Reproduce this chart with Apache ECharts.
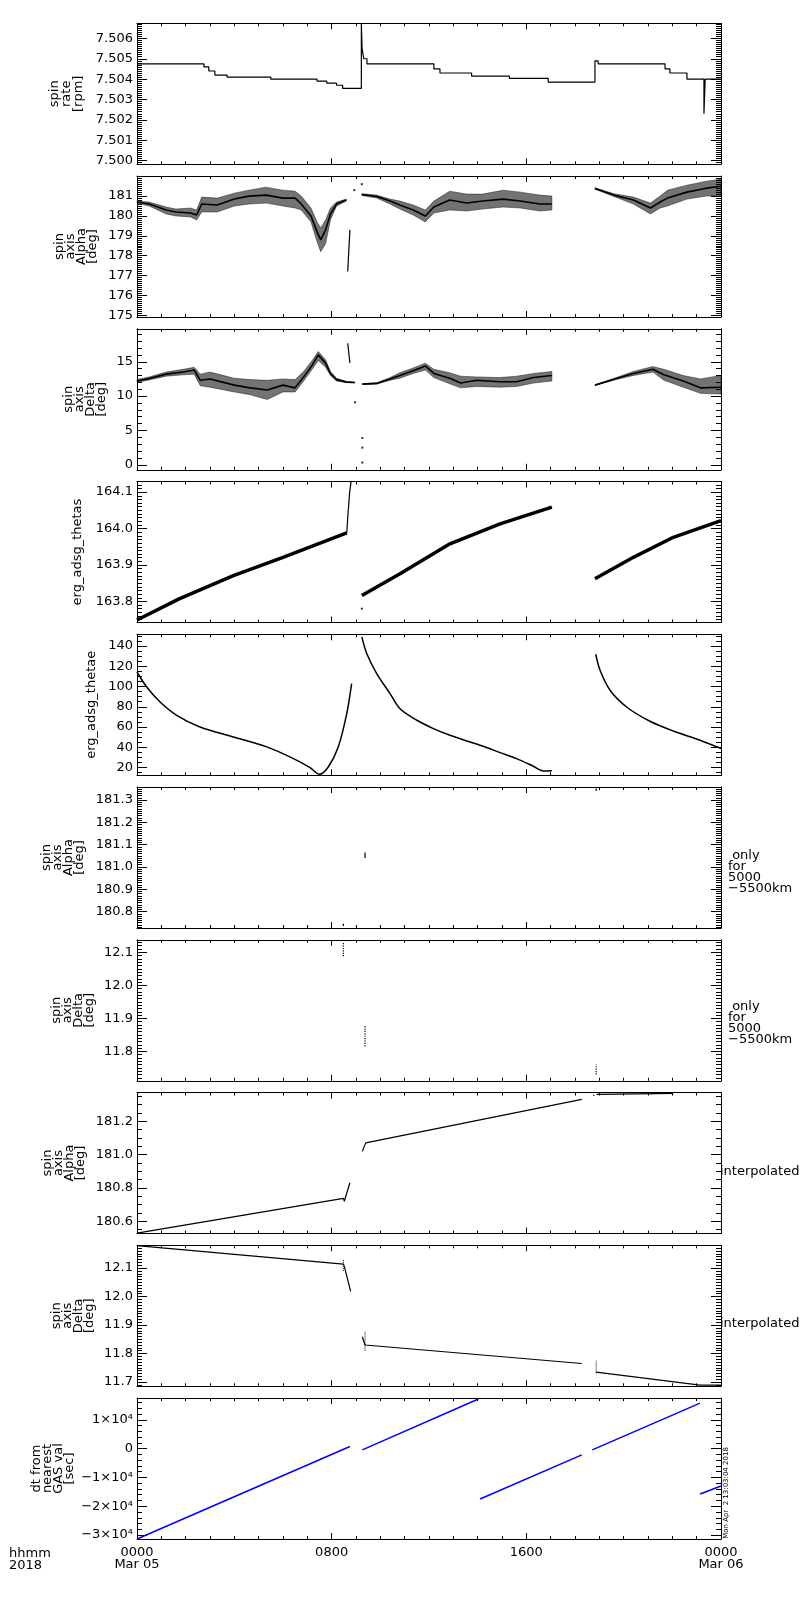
<!DOCTYPE html>
<html>
<head>
<meta charset="utf-8">
<script src="https://cdn.jsdelivr.net/npm/echarts@6.0.0/dist/echarts.min.js"></script>
<style>
  html, body { margin: 0; padding: 0; background: #fff; }
  #chart { width: 800px; height: 1600px; }
</style>
</head>
<body>
<div id="chart"></div>
<script>
// time axis in hours from 0000 Mar 05
var timeTicks = [0, 8, 16, 24];
var timeLabels = ['0000\nMar 05', '0800', '1600', '0000\nMar 06'];

// 1. spin rate [rpm]
var rateHours = [0, 2.66, 2.75, 2.95, 3.2, 3.7, 5.5, 7.4, 7.8, 8.2, 8.45, 9.22, 9.22, 9.25, 9.32, 9.45, 12.05, 12.2, 12.45, 13.75, 15.3, 16.9, 18.82, 18.82, 18.95, 21.57, 21.7, 21.9, 22.6, 23.3, 23.3, 23.35, 24];
var rateVals = [7.50475, 7.50475, 7.5046, 7.5044, 7.5042, 7.5041, 7.5040, 7.5039, 7.5038, 7.5037, 7.50355, 7.50355, 7.5067, 7.5055, 7.5050, 7.50475, 7.50475, 7.5045, 7.5043, 7.50415, 7.50404, 7.50385, 7.50385, 7.5049, 7.50475, 7.50475, 7.5045, 7.5043, 7.5040, 7.5040, 7.5023, 7.5040, 7.5040];
var rateTicks = [7.500, 7.501, 7.502, 7.503, 7.504, 7.505, 7.506];

// 2. spin axis alpha [deg] (scattered band: low / mid / high)
var alphaHours = [0, 0.5, 1.2, 1.6, 2.2, 2.45, 2.66, 3.3, 4.0, 4.6, 5.3, 6.0, 6.5, 6.75, 7.15, 7.4, 7.55, 7.75, 7.95, 8.2, 8.6, null,
  9.24, 9.85, 10.4, 10.8, 11.35, 11.85, 12.2, 12.85, 13.55, 14.2, 15.05, 15.75, 16.55, 17.05, null,
  18.82, 19.6, 20.4, 21.1, 21.5, 21.8, 22.6, 23.4, 24];
var alphaMid = [180.7, 180.6, 180.3, 180.2, 180.15, 180.05, 180.6, 180.55, 180.85, 181.0, 181.05, 180.9, 180.9, 180.6, 180.0, 179.2, 178.8, 179.3, 180.1, 180.6, 180.8, null,
  181.08, 180.98, 180.75, 180.55, 180.3, 180.0, 180.45, 180.8, 180.65, 180.75, 180.85, 180.75, 180.6, 180.6, null,
  181.38, 181.05, 180.8, 180.4, 180.7, 180.9, 181.2, 181.4, 181.5];
var alphaLow = [180.65, 180.5, 180.1, 180.0, 179.95, 179.8, 180.2, 180.2, 180.5, 180.6, 180.65, 180.5, 180.4, 180.3, 179.7, 178.7, 178.2, 178.6, 179.8, 180.5, 180.75, null,
  181.03, 180.9, 180.6, 180.35, 180.05, 179.7, 180.15, 180.3, 180.25, 180.35, 180.45, 180.4, 180.25, 180.3, null,
  181.35, 180.98, 180.6, 180.1, 180.4, 180.5, 180.85, 181.0, 181.0];
var alphaHigh = [180.75, 180.7, 180.45, 180.35, 180.4, 180.3, 180.95, 180.9, 181.15, 181.3, 181.45, 181.3, 181.25, 181.0, 180.4, 179.7, 179.4, 179.8, 180.4, 180.7, 180.85, null,
  181.12, 181.05, 180.85, 180.75, 180.55, 180.3, 180.75, 181.25, 181.1, 181.1, 181.3, 181.2, 181.05, 181.0, null,
  181.42, 181.12, 180.95, 180.65, 181.0, 181.3, 181.55, 181.75, 181.85];
var alphaJumpHours = [8.66, 8.75];
var alphaJumpVals = [177.2, 179.3];
var alphaDotHours = [8.93, 9.24];
var alphaDotVals = [181.3, 181.6];
var alphaTicks = [175, 176, 177, 178, 179, 180, 181];

// 3. spin axis delta [deg]
var deltaHours = [0, 0.5, 1.2, 1.9, 2.35, 2.6, 3.0, 4.0, 4.65, 5.35, 6.0, 6.5, 6.85, 7.2, 7.45, 7.75, 7.95, 8.2, 8.6, 8.95, null,
  9.26, 9.85, 10.4, 10.8, 11.35, 11.85, 12.2, 12.85, 13.3, 13.95, 14.9, 15.6, 16.3, 17.05, null,
  18.82, 19.7, 20.4, 21.2, 21.65, 22.45, 23.15, 24];
var deltaMid = [12.2, 12.55, 13.2, 13.5, 13.8, 12.3, 12.5, 11.6, 11.2, 10.9, 11.6, 11.2, 12.8, 14.5, 16.0, 14.8, 13.3, 12.4, 12.05, 11.98, null,
  11.75, 11.85, 12.5, 13.0, 13.7, 14.4, 13.3, 12.6, 11.9, 12.3, 12.1, 12.1, 12.7, 13.0, null,
  11.6, 12.55, 13.3, 13.9, 13.1, 12.2, 11.2, 11.3];
var deltaLow = [12.0, 12.35, 12.9, 13.1, 13.2, 11.5, 11.3, 10.6, 10.2, 9.5, 10.6, 10.6, 12.2, 13.9, 15.2, 14.2, 13.0, 12.2, 11.95, 11.9, null,
  11.7, 11.75, 12.3, 12.6, 13.3, 13.8, 12.7, 11.8, 11.2, 11.4, 11.3, 11.4, 11.9, 12.2, null,
  11.55, 12.4, 13.0, 13.5, 12.3, 11.3, 10.4, 10.3];
var deltaHigh = [12.4, 12.8, 13.5, 13.9, 14.2, 13.2, 13.5, 12.6, 12.4, 12.3, 12.5, 12.4, 13.6, 15.2, 16.5, 15.3, 13.6, 12.6, 12.15, 12.05, null,
  11.8, 11.95, 12.7, 13.4, 14.1, 14.8, 13.9, 13.4, 12.9, 12.8, 12.7, 12.9, 13.3, 13.6, null,
  11.65, 12.7, 13.6, 14.3, 13.9, 13.0, 12.5, 13.0];
var deltaJumpHours = [8.66, 8.75];
var deltaJumpVals = [17.7, 14.8];
var deltaDotHours = [8.96, 9.26, 9.26, 9.26];
var deltaDotVals = [9.1, 3.9, 2.5, 0.33];
var deltaTicks = [0, 5, 10, 15];

// 4. erg_adsg_thetas
var thetasHours = [0, 1.73, 3.96, 6.0, 8.62, null, 9.24, 10.81, 12.86, 14.92, 17.05, null, 18.82, 20.4, 22.04, 24];
var thetasVals = [163.749, 163.807, 163.871, 163.921, 163.988, null, 163.816, 163.876, 163.958, 164.013, 164.059, null, 163.862, 163.921, 163.976, 164.022];
var thetasJumpHours = [8.62, 8.66, 8.74, 8.8];
var thetasJumpVals = [163.988, 164.03, 164.1, 164.13];
var thetasDotHours = [9.24];
var thetasDotVals = [163.78];
var thetasTicks = [163.8, 163.9, 164.0, 164.1];

// 5. erg_adsg_thetae
var thetaeHours = [0, 0.4, 0.95, 1.63, 2.59, 3.96, 5.33, 6.43, 7.11, 7.49, 7.86, 8.27, 8.62, 8.82, null,
  9.24, 9.44, 9.85, 10.4, 10.81, 11.5, 12.18, 12.86, 13.55, 14.23, 14.92, 15.6, 16.29, 16.7, 17.05, null,
  18.85, 19.03, 19.44, 20.12, 21.08, 22.04, 23.14, 24];
var thetaeVals = [114.3, 99.5, 84.7, 71.6, 60.1, 50.2, 40.4, 28.9, 20.0, 13.4, 20.6, 40.4, 73.3, 102.9, null,
  148.9, 132.5, 112.8, 93.0, 78.0, 66.7, 58.5, 51.9, 46.3, 41.0, 34.8, 28.9, 21.3, 16.7, 16.9, null,
  131.8, 116.0, 96.3, 79.8, 65.7, 56.1, 47.0, 38.8];
var thetaeTicks = [20, 40, 60, 80, 100, 120, 140];

// 6. spin axis alpha, only for 5000-5500 km
var alphaKmHours = [8.48, 8.48, null, 9.37, 9.37, null, 18.87, 18.87];
var alphaKmVals = [180.735, 180.745, null, 181.04, 181.065, null, 181.34, 181.352];
var alphaKmTicks = [180.8, 180.9, 181.0, 181.1, 181.2, 181.3];

// 7. spin axis delta, only for 5000-5500 km
var deltaKmHours = [8.48, 8.48, null, 9.37, 9.37, null, 18.87, 18.87];
var deltaKmVals = [12.088, 12.128, null, 11.815, 11.88, null, 11.73, 11.76];
var deltaKmTicks = [11.8, 11.9, 12.0, 12.1];

// 8. spin axis alpha, interpolated
var alphaIntHours = [0, 8.48, 8.52, 8.75, null, 9.26, 9.4, 18.28, null, 18.76, 18.78, null, 18.89, 22.04];
var alphaIntVals = [180.529, 180.737, 180.72, 180.831, null, 181.019, 181.07, 181.331, null, 181.352, 181.358, null, 181.361, 181.367];
var alphaIntTicks = [180.6, 180.8, 181.0, 181.2];

// 9. spin axis delta, interpolated
var deltaIntHours = [0, 8.48, 8.52, 8.78, null, 9.26, 9.37, 9.4, 18.28, null, 18.87, 23.14, 24];
var deltaIntVals = [12.179, 12.114, 12.106, 12.018, null, 11.859, 11.83, 11.823, 11.765, null, 11.735, 11.689, 11.689];
var deltaIntMarkHours = [8.48, 8.48, null, 9.37, 9.37, null, 18.87, 18.87];
var deltaIntMarkVals = [12.09, 12.13, null, 11.81, 11.88, null, 11.73, 11.775];
var deltaIntTicks = [11.7, 11.8, 11.9, 12.0, 12.1];

// 10. dt from nearest GAS val [sec]
var dtHours = [0, 8.75, null, 9.26, 14.03, null, 14.1, 18.28, null, 18.71, 23.14, null, 23.14, 24];
var dtVals = [-31391, 713, null, -435, 17200, null, -17478, -2174, null, -435, 15800, null, -15739, -12957];
var dtTicks = [-30000, -20000, -10000, 0, 10000];
var dtTickLabels = ['\u22123\u00d710\u2074', '\u22122\u00d710\u2074', '\u22121\u00d710\u2074', '0', '1\u00d710\u2074'];

var FONT = 'DejaVu Sans';
var TOP0 = 23.3, STEP = 152.75, H = 141, LEFT = 137, W = 584;

function pairs(hours, vals) {
    var out = [], last = 0;
    hours.forEach(function (h, i) {
        if (h == null || vals[i] == null) { out.push([last, '-']); return; }
        last = h;
        out.push([h, vals[i]]);
    });
    return out;
}

function segments(hours) {
    var segs = [], cur = [];
    hours.forEach(function (h, i) {
        if (h == null) { if (cur.length) segs.push(cur); cur = []; } else cur.push(i);
    });
    if (cur.length) segs.push(cur);
    return segs;
}

function steps(min, max, step) {
    var out = [];
    for (var k = Math.ceil(min / step - 1e-9); k * step <= max + 1e-9; k++) out.push(+(k * step).toFixed(6));
    return out;
}

var panels = [
    {name: 'spin\nrate\n[rpm]', min: 7.49982, max: 7.50674, ticks: rateTicks, dec: 3, minor: 0.0001, gap: 52, lh: 12},
    {name: 'spin\naxis\nAlpha\n[deg]', min: 174.91, max: 182.01, ticks: alphaTicks, dec: 0, minor: 0.1, gap: 39},
    {name: 'spin\naxis\nDelta\n[deg]', min: -0.73, max: 19.8, ticks: deltaTicks, dec: 0, minor: 1, gap: 30},
    {name: 'erg_adsg_thetas', min: 163.742, max: 164.129, ticks: thetasTicks, dec: 1, minor: 0.01, gap: 54},
    {name: 'erg_adsg_thetae', min: 12.4, max: 151.5, ticks: thetaeTicks, dec: 0, minor: 5, gap: 40},
    {name: 'spin\naxis\nAlpha\n[deg]', min: 180.726, max: 181.358, ticks: alphaKmTicks, dec: 1, minor: 0.01, gap: 52},
    {name: 'spin\naxis\nDelta\n[deg]', min: 11.711, max: 12.138, ticks: deltaKmTicks, dec: 1, minor: 0.01, gap: 42},
    {name: 'spin\naxis\nAlpha\n[deg]', min: 180.526, max: 181.372, ticks: alphaIntTicks, dec: 1, minor: 0.05, gap: 51},
    {name: 'spin\naxis\nDelta\n[deg]', min: 11.685, max: 12.180, ticks: deltaIntTicks, dec: 1, minor: 0.01, gap: 42},
    {name: 'dt from\nnearest\nGAS val\n[sec]', min: -31391, max: 17548, ticks: dtTicks, labels: dtTickLabels, dec: 0, minor: 2000, gap: 62}
];

var option = {
    animation: false,
    backgroundColor: '#fff',
    textStyle: {fontFamily: FONT, color: '#000'},
    grid: [], xAxis: [], yAxis: [], series: [], graphic: []
};

var black = {color: '#000', width: 1};

panels.forEach(function (p, i) {
    option.grid.push({left: LEFT, top: TOP0 + STEP * i, width: W, height: H, show: false, containLabel: false, outerBoundsMode: 'none'});

    ['bottom', 'top'].forEach(function (pos) {
        option.xAxis.push({
            gridIndex: i, type: 'value', position: pos, min: 0, max: 24, interval: 8,
            axisLine: {show: true, onZero: false, lineStyle: black},
            axisTick: {show: true, inside: true, length: 6, lineStyle: black},
            minorTick: {show: true, splitNumber: 8, length: 3, lineStyle: black},
            axisLabel: {
                show: pos === 'bottom' && i === panels.length - 1,
                showMinLabel: true, showMaxLabel: true,
                color: '#000', fontFamily: FONT, fontSize: 13, lineHeight: 12, margin: 8,
                formatter: function (v) { var k = timeTicks.indexOf(v); return k < 0 ? '' : timeLabels[k]; }
            },
            splitLine: {show: false}, minorSplitLine: {show: false}
        });
    });

    var minors = steps(p.min, p.max, p.minor);
    ['left', 'right'].forEach(function (pos) {
        var major = {
            gridIndex: i, type: 'value', position: pos, min: p.min, max: p.max,
            axisLine: {show: true, onZero: false, lineStyle: black},
            axisTick: {show: true, inside: true, length: 10, lineStyle: black, customValues: p.ticks},
            axisLabel: {show: false},
            splitLine: {show: false}
        };
        if (pos === 'left') {
            major.axisLabel = {
                show: true, customValues: p.ticks, color: '#000', fontFamily: FONT, fontSize: 13, margin: 4,
                formatter: function (v) {
                    if (p.labels) {
                        for (var k = 0; k < p.ticks.length; k++) if (Math.abs(p.ticks[k] - v) < 1e-6) return p.labels[k];
                    }
                    return v.toFixed(p.dec);
                }
            };
            major.name = p.name;
            major.nameLocation = 'middle';
            major.nameRotate = 90;
            major.nameGap = p.gap;
            major.nameMoveOverlap = false;
            major.nameTextStyle = {color: '#000', fontFamily: FONT, fontSize: 13, lineHeight: p.lh || 11, align: 'center'};
        }
        option.yAxis.push(major);
        option.yAxis.push({
            gridIndex: i, type: 'value', position: pos, min: p.min, max: p.max,
            axisLine: {show: false, onZero: false},
            axisTick: {show: true, inside: true, length: 5, lineStyle: black, customValues: minors},
            axisLabel: {show: false},
            splitLine: {show: false}
        });
    });
});

function line(panel, hours, vals, opts) {
    opts = opts || {};
    var s = {
        type: 'line', xAxisIndex: panel * 2, yAxisIndex: panel * 4,
        data: pairs(hours, vals), showSymbol: false, symbol: 'none', connectNulls: false,
        lineStyle: {color: opts.color || '#000', width: opts.width || 1.2, type: opts.type || 'solid'},
        silent: true, z: 3
    };
    if (opts.step) s.step = opts.step;
    if (opts.smooth) s.smooth = opts.smooth;
    return s;
}

function dots(panel, hours, vals) {
    return {
        type: 'scatter', xAxisIndex: panel * 2, yAxisIndex: panel * 4,
        data: pairs(hours, vals), symbol: 'rect', symbolSize: 2,
        itemStyle: {color: '#000'}, silent: true, z: 3
    };
}

// scattered points drawn as a filled envelope between low and high
function band(panel, hours, low, high) {
    var segs = segments(hours);
    return {
        type: 'custom', xAxisIndex: panel * 2, yAxisIndex: panel * 4, silent: true, z: 2,
        data: segs.map(function (s, k) { return [hours[s[0]], low[s[0]], k]; }),
        renderItem: function (params, api) {
            var s = segs[api.value(2)];
            var pts = [];
            s.forEach(function (j) { pts.push(api.coord([hours[j], high[j]])); });
            s.slice().reverse().forEach(function (j) { pts.push(api.coord([hours[j], low[j]])); });
            return {type: 'polygon', shape: {points: pts}, style: {fill: 'rgba(0,0,0,0.55)', stroke: 'rgba(0,0,0,0.7)', lineWidth: 0.6}};
        }
    };
}

option.series.push(
    line(0, rateHours, rateVals, {step: 'end'}),

    band(1, alphaHours, alphaLow, alphaHigh),
    line(1, alphaHours, alphaMid, {width: 1.6}),
    line(1, alphaJumpHours, alphaJumpVals),
    dots(1, alphaDotHours, alphaDotVals),

    band(2, deltaHours, deltaLow, deltaHigh),
    line(2, deltaHours, deltaMid, {width: 1.6}),
    line(2, deltaJumpHours, deltaJumpVals),
    dots(2, deltaDotHours, deltaDotVals),

    line(3, thetasHours, thetasVals, {width: 3.5}),
    line(3, thetasJumpHours, thetasJumpVals),
    dots(3, thetasDotHours, thetasDotVals),

    line(4, thetaeHours, thetaeVals, {width: 1.5, smooth: 0.3}),

    line(5, alphaKmHours, alphaKmVals, {width: 1.2}),
    line(6, deltaKmHours, deltaKmVals, {width: 1.2, type: 'dotted'}),

    line(7, alphaIntHours, alphaIntVals, {width: 1.2}),

    line(8, deltaIntHours, deltaIntVals, {width: 1.2}),
    line(8, deltaIntMarkHours, deltaIntMarkVals, {width: 1, type: 'dotted'}),

    line(9, dtHours, dtVals, {color: '#0000ff', width: 1.5})
);

var txt = {fill: '#000', fontFamily: FONT, fontSize: 13, lineHeight: 11};
option.graphic.push(
    {type: 'text', left: 9, top: 1547, style: Object.assign({}, txt, {text: 'hhmm\n2018', lineHeight: 12})},
    {type: 'text', left: 728, top: 849, style: Object.assign({}, txt, {text: ' only\nfor\n5000\n\u22125500km'})},
    {type: 'text', left: 728, top: 1000, style: Object.assign({}, txt, {text: ' only\nfor\n5000\n\u22125500km'})},
    {type: 'text', left: 720, top: 1165, style: Object.assign({}, txt, {text: 'interpolated'})},
    {type: 'text', left: 720, top: 1317, style: Object.assign({}, txt, {text: 'interpolated'})},
    {type: 'text', x: 726, y: 1493, rotation: Math.PI / 2,
        style: {text: 'Mon Apr  2 13:03:04 2018', fill: '#000', fontFamily: FONT, fontSize: 7, align: 'center', verticalAlign: 'middle'}}
);

var chart = echarts.init(document.getElementById('chart'));
chart.setOption(option);
</script>
</body>
</html>
